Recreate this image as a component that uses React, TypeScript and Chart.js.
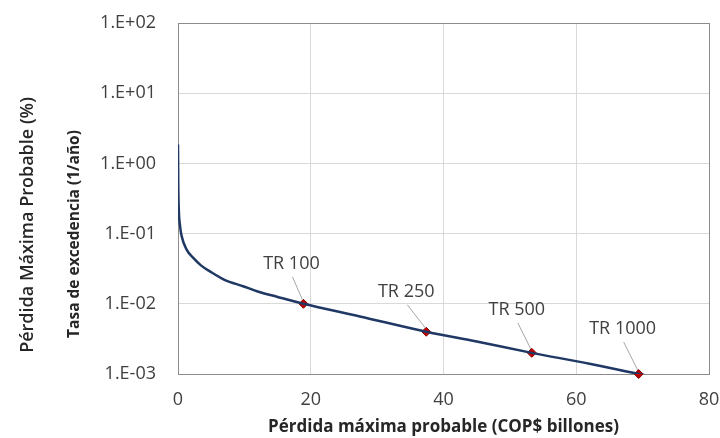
import React, { useEffect, useRef } from 'react';
import { Chart, registerables } from 'chart.js';

Chart.register(...registerables);

const lossX = [0, 0.04, 0.12, 0.3, 0.55, 1.3, 2.3, 3.5, 4.8, 7, 9.8, 12, 14.9, 18.9, 27.4, 37.4, 45, 53.3, 62, 69.4, 70.6];
const rate = [1.86, 0.5, 0.22, 0.13, 0.092, 0.059, 0.045, 0.035, 0.029, 0.022, 0.0178, 0.015, 0.0126, 0.01, 0.0066, 0.004, 0.0029, 0.002, 0.0014, 0.001, 0.00095];

const trLabels = ['TR 100', 'TR 250', 'TR 500', 'TR 1000'];
const trLoss = [18.9, 37.4, 53.3, 69.4];
const trRate = [0.01, 0.004, 0.002, 0.001];

const yTicks = [0.001, 0.01, 0.1, 1, 10, 100];
const xMin = 0;
const xMax = 80;
const xStep = 20;

const yTitles = ['Pérdida Máxima Probable (%)', 'Tasa de excedencia (1/año)'];
const xTitle = 'Pérdida máxima probable (COP$ billones)';

const FONT = "'Open Sans', sans-serif";
const DARK = '#8c8c8c';
const GRID = '#d9d9d9';

function fmtExp(v: number): string {
  const e = Math.round(Math.log10(v));
  return '1.E' + (e < 0 ? '-' : '+') + String(Math.abs(e)).padStart(2, '0');
}

const labelOffsets: [number, number][] = [
  [-12, -40],
  [-20, -40],
  [-15, -43],
  [-16, -45],
];

const annotPlugin = {
  id: 'annot',
  afterDraw(chart: any) {
    const { ctx, scales } = chart;
    const x = scales.x;
    const y = scales.y;
    ctx.save();
    trLoss.forEach((lx, i) => {
      const px = x.getPixelForValue(lx);
      const py = y.getPixelForValue(trRate[i]);
      const [dx, dy] = labelOffsets[i];
      const tx = px + dx;
      const ty = py + dy;
      ctx.strokeStyle = '#a6a6a6';
      ctx.lineWidth = 1;
      ctx.beginPath();
      ctx.moveTo(tx + 1, ty + 13);
      ctx.lineTo(px - 1, py - 4);
      ctx.stroke();
      ctx.fillStyle = '#404040';
      ctx.font = `18px ${FONT}`;
      ctx.textAlign = 'center';
      ctx.textBaseline = 'middle';
      ctx.fillText(trLabels[i], tx, ty);
    });
    const titles: { cx: number; cy: number; font: string }[] = [
      { cx: 28, cy: 225, font: `600 18px ${FONT}` },
      { cx: 75, cy: 234, font: `bold 15.5px ${FONT}` },
    ];
    yTitles.forEach((t, i) => {
      ctx.save();
      ctx.translate(titles[i].cx, titles[i].cy);
      ctx.rotate(-Math.PI / 2);
      ctx.fillStyle = '#262626';
      ctx.font = titles[i].font;
      ctx.textAlign = 'center';
      ctx.textBaseline = 'middle';
      ctx.fillText(t, 0, 0);
      ctx.restore();
    });
    ctx.restore();
  },
};

export default function App() {
  const ref = useRef<HTMLCanvasElement>(null);
  useEffect(() => {
    document.body.style.margin = '0';
    const canvas = ref.current;
    if (!canvas) return;
    const chart = new Chart(canvas, {
      type: 'line',
      data: {
        datasets: [
          {
            data: lossX.map((v, i) => ({ x: v, y: rate[i] })),
            borderColor: '#1f3864',
            borderWidth: 2.5,
            pointRadius: 0,
            cubicInterpolationMode: 'monotone',
            fill: false,
          },
          {
            data: trLoss.map((v, i) => ({ x: v, y: trRate[i] })),
            showLine: false,
            pointStyle: 'rectRot',
            pointRadius: 4.5,
            pointBackgroundColor: '#c00000',
            pointBorderColor: '#8b0000',
            pointBorderWidth: 1,
            clip: false as any,
          },
        ],
      },
      options: {
        animation: false,
        responsive: false,
        devicePixelRatio: 1,
        layout: { padding: { top: 23, right: 11, left: 0, bottom: 0 } },
        plugins: { legend: { display: false }, tooltip: { enabled: false } },
        scales: {
          x: {
            type: 'linear',
            min: xMin,
            max: xMax,
            ticks: {
              stepSize: xStep,
              color: '#404040',
              font: { family: FONT, size: 18 },
              padding: 15,
            },
            grid: {
              drawTicks: false,
              color: (c: any) => (c.tick && c.tick.value === xMax ? DARK : GRID),
            },
            border: { display: true, color: DARK },
            title: {
              display: true,
              text: xTitle,
              color: '#262626',
              font: { family: FONT, size: 17, weight: 'bold' },
              padding: { top: 0, bottom: 1 },
            },
            afterFit: (s: any) => {
              s.height = 64;
              s.paddingLeft = 0;
              s.paddingRight = 0;
            },
          },
          y: {
            type: 'logarithmic',
            min: yTicks[0],
            max: yTicks[yTicks.length - 1],
            afterBuildTicks: (s: any) => {
              s.ticks = yTicks.map((v) => ({ value: v }));
            },
            ticks: {
              color: '#404040',
              font: { family: FONT, size: 18 },
              padding: 22,
              callback: (v: any) => fmtExp(Number(v)),
            },
            grid: {
              drawTicks: false,
              color: (c: any) => (c.tick && c.tick.value === yTicks[yTicks.length - 1] ? DARK : GRID),
            },
            border: { display: true, color: DARK },
            afterFit: (s: any) => {
              s.width = 178;
              s.paddingTop = 0;
              s.paddingBottom = 0;
            },
          },
        },
      },
      plugins: [annotPlugin],
    });
    return () => chart.destroy();
  }, []);
  return <canvas ref={ref} width={720} height={438} style={{ display: 'block' }} />;
}
